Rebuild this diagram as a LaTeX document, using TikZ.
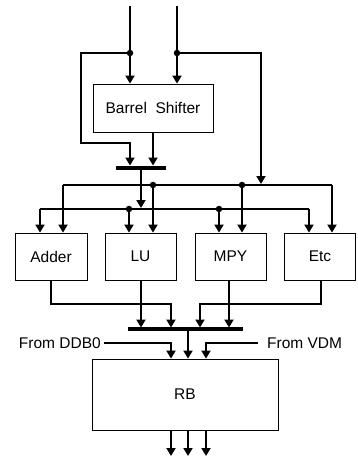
\documentclass[tikz,border=0pt]{standalone}
\usepackage{fontspec}
\setmainfont{Liberation Sans}
\usetikzlibrary{arrows.meta}
\begin{document}
\begin{tikzpicture}[x=1pt,y=-1pt,
  box/.style={draw,line width=0.8pt,minimum height=47pt,inner sep=0pt,font=\fontsize{15.5}{17}\selectfont},
  wire/.style={line width=1.9pt},
  arr/.style={wire,-{Triangle[width=9pt,length=8pt]}},
  bus/.style={line width=4pt},
  dot/.style={circle,fill,inner sep=0pt,minimum size=6.5pt},
  lbl/.style={inner sep=0pt,font=\fontsize{15.5}{17}\selectfont}]
\useasboundingbox (0,0) rectangle (357,461);
% boxes
\node[box,minimum width=120pt,minimum height=48pt] (bs) at (153,108) {Barrel\ \ Shifter};
\node[box,minimum width=72pt] (adder) at (51,256.5) {Adder};
\node[box,minimum width=71pt] (lu) at (140.5,256.5) {LU};
\node[box,minimum width=71pt] (mpy) at (230.5,256.5) {MPY};
\node[box,minimum width=71pt] (etc) at (320,256.5) {Etc};
\node[box,minimum width=186pt,minimum height=71pt] (rb) at (185,394.5) {RB};
% coordinates
\coordinate (in1) at (130,6);
\coordinate (in2) at (177,6);
\coordinate (j1) at (130,53);
\coordinate (j2) at (177,53);
\coordinate (b1l) at (116,167.5);
\coordinate (b1r) at (166,167.5);
\coordinate (u0) at (63,185);
\coordinate (u1) at (153,185);
\coordinate (u2) at (242,185);
\coordinate (u3) at (332,185);
\coordinate (l0) at (40,209);
\coordinate (l1) at (129,209);
\coordinate (l2) at (219,209);
\coordinate (l3) at (309,209);
\coordinate (b2l) at (128,329);
\coordinate (b2r) at (243,329);
\node[lbl,anchor=east] (ddb) at (101,343) {From DDB0};
\node[lbl,anchor=west] (vdm) at (267,343) {From VDM};
% inputs to barrel shifter
\draw[arr] (in1) -- (in1 |- bs.north);
\draw[arr] (in2) -- (in2 |- bs.north);
\draw[arr] (j1) -- (81,53) -- (81,143) -- (130,143) -- (130,165.5);
\draw[arr] (bs.south -| 153,0) -- (153,165.5);
\draw[arr] (j2) -- (261,53) -- (261,184);
\draw[bus] (b1l) -- (b1r);
\draw[arr] (141,168) -- (141,208);
% distribution lines
\draw[wire] (u0) -- (u3);
\draw[wire] (l0) -- (l3);
\draw[arr] (u0) -- (u0 |- adder.north);
\draw[arr] (u1) -- (u1 |- lu.north);
\draw[arr] (u2) -- (u2 |- mpy.north);
\draw[arr] (u3) -- (u3 |- etc.north);
\draw[arr] (l0) -- (l0 |- adder.north);
\draw[arr] (l1) -- (l1 |- lu.north);
\draw[arr] (l2) -- (l2 |- mpy.north);
\draw[arr] (l3) -- (l3 |- etc.north);
% outputs to bus 2
\draw[arr] (adder.south) -- (51,304) -- (171,304) -- (171,327.5);
\draw[arr] (lu.south -| 141,0) -- (141,327.5);
\draw[arr] (mpy.south -| 229,0) -- (229,327.5);
\draw[arr] (etc.south -| 321,0) -- (321,304) -- (200,304) -- (200,327.5);
\draw[bus] (b2l) -- (b2r);
\draw[arr] (188,330) -- (rb.north -| 188,0);
\draw[arr] (ddb.east) ++(3,0) -- (171,343) -- (rb.north -| 171,0);
\draw[arr] (vdm.west) ++(-9,0) -- (206,343) -- (rb.north -| 206,0);
% outputs of RB
\draw[arr] (rb.south -| 171,0) -- (171,456);
\draw[arr] (rb.south -| 188,0) -- (188,456);
\draw[arr] (rb.south -| 206,0) -- (206,456);
% junction dots
\foreach \p in {j1,j2,u1,u2,l1,l2} \node[dot] at (\p) {};
\end{tikzpicture}
\end{document}
